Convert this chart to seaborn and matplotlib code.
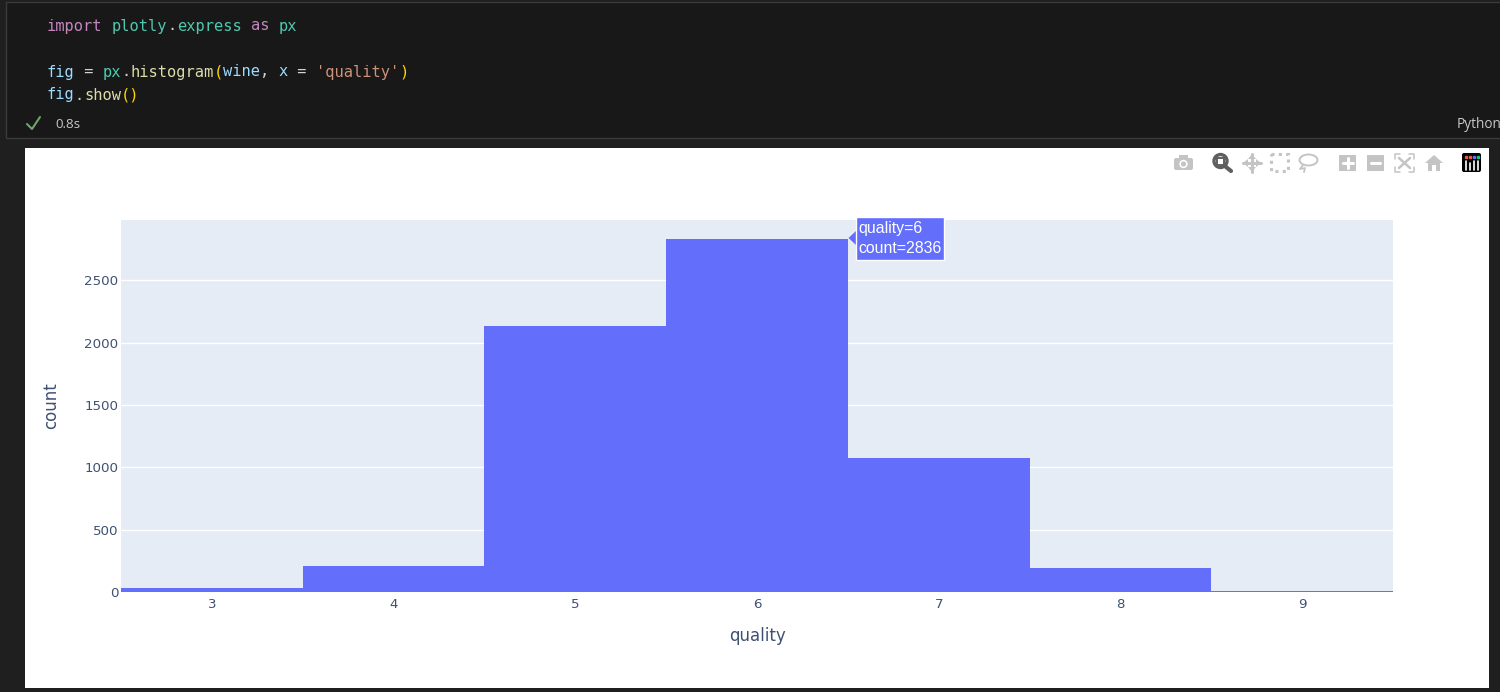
#!/usr/bin/env python
import matplotlib
matplotlib.use("Agg")
import matplotlib.pyplot as plt
import pandas as pd
import seaborn as sns
from matplotlib.patches import Circle, Ellipse, FancyBboxPatch, Polygon, Rectangle

quality = [3, 4, 5, 6, 7, 8, 9]
counts = [30, 208, 2135, 2836, 1075, 193, 5]
y_ticks = [0, 500, 1000, 1500, 2000, 2500]
x_ticks = [3, 4, 5, 6, 7, 8, 9]

BAR = "#636efa"
PLOT_BG = "#e5ecf6"
INK = "#3f5173"
ICON = "#c4c4c4"
W, H = 1500, 692

# (text, colour) tokens, one list per line of the notebook cell
PURPLE, TEAL, BLUE, YELLOW, WHITE, ORANGE = "#c586c0", "#4ec9b0", "#9cdcfe", "#ffd700", "#d4d4d4", "#ce9178"
code_lines = [
    (26, [("import", PURPLE), (" ", WHITE), ("plotly", TEAL), (".", WHITE), ("express", TEAL), (" ", WHITE),
          ("as", PURPLE), (" ", WHITE), ("px", TEAL)]),
    (72, [("fig", BLUE), (" = ", WHITE), ("px", TEAL), (".", WHITE), ("histogram", "#dcdcaa"), ("(", YELLOW),
          ("wine", BLUE), (", ", WHITE), ("x", BLUE), (" = ", WHITE), ("'quality'", ORANGE), (")", YELLOW)]),
    (95, [("fig", BLUE), (".", WHITE), ("show", "#dcdcaa"), ("()", YELLOW)]),
]


def px_axes(fig, zorder):
    ax = fig.add_axes([0, 0, 1, 1], zorder=zorder)
    ax.set_xlim(0, W)
    ax.set_ylim(H, 0)
    ax.axis("off")
    ax.patch.set_alpha(0)
    return ax


def draw_toolbar(ax):
    # camera
    ax.add_patch(FancyBboxPatch((1174, 158), 19, 12, boxstyle="round,pad=0,rounding_size=2", fc=ICON, ec="none"))
    ax.add_patch(Rectangle((1179, 155), 9, 4, fc=ICON, ec="none"))
    ax.add_patch(Circle((1183.5, 164), 4.2, fc="white", ec="none"))
    ax.add_patch(Circle((1183.5, 164), 2.6, fc=ICON, ec="none"))
    # zoom, the active one
    ax.plot([1226, 1231], [167, 171], color="#5f5f5f", lw=3)
    ax.add_patch(Circle((1220.5, 161), 6.5, fc="none", ec="#5f5f5f", lw=2.4))
    ax.add_patch(Rectangle((1217, 157.5), 7, 7, fc="none", ec="#5f5f5f", lw=1.4))
    # pan
    ax.plot([1243, 1261], [163, 163], color=ICON, lw=2.2)
    ax.plot([1252, 1252], [154, 172], color=ICON, lw=2.2)
    for pts in ([(1243, 163), (1248, 159), (1248, 167)], [(1261, 163), (1256, 159), (1256, 167)],
                [(1252, 154), (1248, 159), (1256, 159)], [(1252, 172), (1248, 167), (1256, 167)]):
        ax.add_patch(Polygon(pts, fc=ICON, ec="none"))
    # box select
    ax.add_patch(Rectangle((1271, 154), 17, 17, fc="none", ec=ICON, lw=2.2, ls=(0, (1, 1.4))))
    # lasso
    ax.add_patch(Ellipse((1308.5, 160), 18, 11, fc="none", ec=ICON, lw=1.4))
    ax.plot([1303, 1300, 1305, 1304], [165, 169, 168, 172], color=ICON, lw=1.3)
    # plus and minus
    ax.add_patch(Rectangle((1339, 155), 17, 16, fc=ICON, ec="none"))
    ax.plot([1342.5, 1352.5], [163, 163], color="white", lw=2.2)
    ax.plot([1347.5, 1347.5], [158, 168], color="white", lw=2.2)
    ax.add_patch(Rectangle((1367, 155), 17, 16, fc=ICON, ec="none"))
    ax.plot([1371, 1380], [163, 163], color="white", lw=2.2)
    # autoscale
    for cx, cy, dx, dy in [(1395, 154, 1, 1), (1414, 154, -1, 1), (1395, 172, 1, -1), (1414, 172, -1, -1)]:
        ax.plot([cx + 5 * dx, cx, cx], [cy, cy, cy + 5 * dy], color=ICON, lw=1.1)
    ax.plot([1399, 1410], [158, 168], color=ICON, lw=1.8)
    ax.plot([1399, 1410], [168, 158], color=ICON, lw=1.8)
    # home
    ax.add_patch(Polygon([(1425, 163), (1434, 155), (1443, 163), (1440, 163), (1440, 171), (1436, 171), (1436, 165),
                          (1432, 165), (1432, 171), (1428, 171), (1428, 163)], fc=ICON, ec="none"))
    # plotly logo
    ax.add_patch(FancyBboxPatch((1462, 153), 19, 19, boxstyle="round,pad=0,rounding_size=2", fc="black", ec="none"))
    for bx, top_y in [(1465.5, 161), (1469.5, 163), (1473.5, 161), (1477.5, 161)]:
        ax.plot([bx, bx], [top_y, 170], color="white", lw=1.2)
    for bx, by, c in [(1465.5, 157, "#ef553b"), (1469.5, 157, "#ef553b"), (1473.5, 157, "#636efa"),
                      (1477.5, 157, "#00cc96")]:
        ax.plot([bx], [by], marker="s", ms=1.5, color=c)


sns.set_theme(style="white")
plt.rcParams["font.family"] = ["DejaVu Sans"]

fig = plt.figure(figsize=(W / 100, H / 100), dpi=100, facecolor="#1f1f1f")

# editor chrome behind the chart
bg = px_axes(fig, 0)
bg.add_patch(Rectangle((5.5, 1.5), W, 136, fc="#181818", ec="#3a3a3a", lw=1))
bg.add_patch(Rectangle((25, 148), 1464, 540, fc="white", ec="none"))
char_w = 9.26
for y, tokens in code_lines:
    col = 0
    for text, colour in tokens:
        bg.text(47 + col * char_w, y, text, color=colour, family="DejaVu Sans Mono", fontsize=11.1, va="center")
        col += len(text)
bg.plot([27, 32, 40], [124, 129, 117], color="#73a26d", lw=1.5)
bg.text(55, 125, "0.8s", color="#c8c8c8", family="Open Sans", fontsize=9.6, va="center")
bg.text(1457, 125, "Python", color="#c8c8c8", family="Open Sans", fontsize=9.8, va="center", clip_on=True)
draw_toolbar(bg)

# the histogram itself
ax = fig.add_axes([121 / W, 1 - 592 / H, (1393 - 121) / W, (592 - 220) / H], zorder=1)
ax.set_facecolor(PLOT_BG)
df = pd.DataFrame({"quality": quality, "count": counts})
sns.histplot(data=df, x="quality", weights="count", discrete=True, color=BAR, alpha=1, linewidth=0, ax=ax)
ax.set_xlim(2.5, 9.5)
ax.set_ylim(0, 2985)
ax.set_xticks(x_ticks)
ax.set_yticks(y_ticks)
ax.grid(axis="y", color="white", lw=1)
ax.grid(axis="x", visible=False)
ax.set_axisbelow(True)
ax.tick_params(axis="both", length=0, labelsize=9.6, labelcolor=INK)
ax.tick_params(axis="x", pad=4.5)
ax.tick_params(axis="y", pad=2)
ax.set_xlabel("quality", fontsize=12, color=INK, labelpad=11.5)
ax.set_ylabel("count", fontsize=12, color=INK, labelpad=17)
sns.despine(ax=ax, left=True, bottom=True, top=True, right=True)

# hover label
top = px_axes(fig, 2)
top.add_patch(Polygon([(848.5, 238), (856, 231), (856, 245)], fc=BAR, ec="none"))
top.add_patch(Rectangle((856, 217), 88, 43, fc=BAR, ec="white", lw=1))
top.text(858.5, 228.5, "quality=6", color="white", family="Liberation Sans", fontsize=11.4, va="center")
top.text(858.5, 248.5, "count=2836", color="white", family="Liberation Sans", fontsize=11.4, va="center")

fig.savefig("out.png", dpi=100, facecolor=fig.get_facecolor())
